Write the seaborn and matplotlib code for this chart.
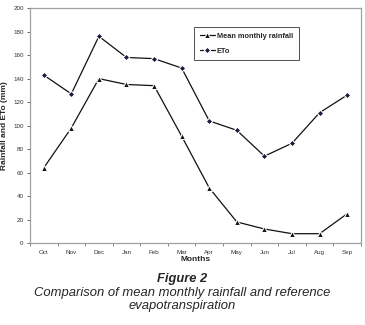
import numpy as np
import pandas as pd
import matplotlib
matplotlib.use("Agg")
import matplotlib.pyplot as plt
import seaborn as sns

months = ["Oct", "Nov", "Dec", "Jan", "Feb", "Mar", "Apr", "May", "Jun", "Jul", "Aug", "Sep"]
rainfall = [64, 98, 140, 135, 134, 91, 47, 18, 12, 8, 8, 25]
eto = [143, 127, 176, 158, 157, 149, 104, 96, 74, 85, 111, 126]

sns.set_style("white")
plt.rcParams['font.family'] = ['Liberation Sans', 'DejaVu Sans']

df = pd.DataFrame({"Month": months, "Mean monthly rainfall": rainfall, "ETo": eto})
df["x"] = np.arange(len(months))

fig = plt.figure(figsize=(3.65, 3.25), dpi=100)
ax = fig.add_axes([0.082, 0.252, 0.907, 0.723])

sns.lineplot(data=df, x="x", y="Mean monthly rainfall", ax=ax, color="#111111",
             marker="^", markersize=4.2, linewidth=0.9, label="Mean monthly rainfall")
sns.lineplot(data=df, x="x", y="ETo", ax=ax, color="#111111",
             marker="D", markersize=3.3, markerfacecolor="#1a1a40", linewidth=0.9, label="ETo")

ax.set_xlim(-0.5, len(months) - 0.5)
ax.set_ylim(0, 200)
ax.set_yticks(range(0, 201, 20))
ax.set_xticks(df["x"])
ax.set_xticklabels(months)
ax.set_xticks(np.arange(-0.5, len(months), 1), minor=True)
ax.tick_params(axis="x", which="major", length=0, labelsize=4.5, pad=5, labelcolor="#333333")
ax.tick_params(axis="x", which="minor", length=2.5, width=0.5, color="#555555", bottom=True)
ax.tick_params(axis="y", length=2.5, width=0.5, labelsize=4.5, left=True, pad=2, labelcolor="#333333")

for s in ["top", "right", "left", "bottom"]:
    ax.spines[s].set_color("#a0a0a0")
    ax.spines[s].set_linewidth(0.9)

ax.set_xlabel("Months", fontsize=6, fontweight="bold", labelpad=1)
ax.set_ylabel("Rainfall and ETo (mm)", fontsize=6, fontweight="bold", labelpad=4)

leg = ax.legend(loc="upper left", bbox_to_anchor=(0.485, 0.937), fontsize=5.3,
                frameon=True, fancybox=False, edgecolor="black", handlelength=2.0,
                handletextpad=0.3, borderpad=0.8, labelspacing=1.05)
leg.get_frame().set_linewidth(0.6)
for t in leg.get_texts():
    t.set_fontweight("bold")

fig.text(0.5, 0.133, "Figure 2", ha="center", va="baseline", fontsize=9.3,
         fontweight="bold", style="italic")
fig.text(0.5, 0.09, "Comparison of mean monthly rainfall and reference", ha="center",
         va="baseline", fontsize=9.4, style="italic")
fig.text(0.5, 0.05, "evapotranspiration", ha="center", va="baseline",
         fontsize=9.4, style="italic")

fig.savefig("out.png", dpi=100)
